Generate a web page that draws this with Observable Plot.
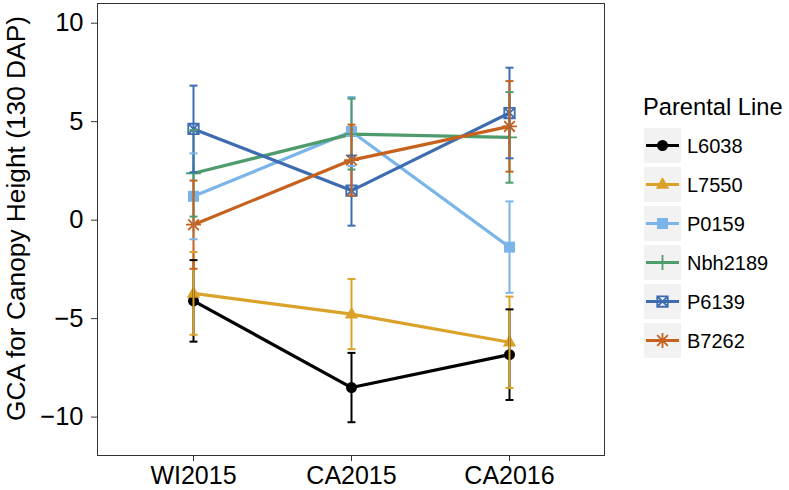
<!DOCTYPE html>
<html><head><meta charset="utf-8">
<script src="https://cdn.jsdelivr.net/npm/d3@7"></script>
<script src="https://cdn.jsdelivr.net/npm/@observablehq/plot@0.6"></script>
<style>
body{margin:0;background:#fff;}
#wrap{position:relative;width:789px;height:490px;font-family:"Liberation Sans",Arial,sans-serif;}
#wrap svg.legend{position:absolute;left:0;top:0;pointer-events:none;}
</style></head><body><div id="wrap"></div>
<script>
// ---- data ----
const environments = ["WI2015", "CA2015", "CA2016"];
const parentalLines = ["L6038", "L7550", "P0159", "Nbh2189", "P6139", "B7262"];
const gcaL6038   = [-4.10, -8.50, -6.83];
const gcaL7550   = [-3.72, -4.77, -6.20];
const gcaP0159   = [ 1.21,  4.50, -1.37];
const gcaNbh2189 = [ 2.38,  4.37,  4.20];
const gcaP6139   = [ 4.63,  1.50,  5.44];
const gcaB7262   = [-0.23,  3.05,  4.76];
const seL6038    = [2.07, 1.76, 2.30];
const seL7550    = [2.10, 1.78, 2.32];
const seP0159    = [2.18, 1.75, 2.32];
const seNbh2189  = [2.20, 1.80, 2.30];
const seP6139    = [2.20, 1.78, 2.30];
const seB7262    = [2.24, 1.80, 2.30];
const yTicks = [-10, -5, 0, 5, 10];
const yTitle = "GCA for Canopy Height (130 DAP)";
const legendTitle = "Parental Line";

// ---- style ----
const palette = ["#000000", "#DBA22A", "#7AB4E8", "#4E9C6C", "#3D6CB1", "#C7611E"];
const FONT = "Liberation Sans, Arial, sans-serif";

const gcaBy = {L6038: gcaL6038, L7550: gcaL7550, P0159: gcaP0159, Nbh2189: gcaNbh2189, P6139: gcaP6139, B7262: gcaB7262};
const seBy = {L6038: seL6038, L7550: seL7550, P0159: seP0159, Nbh2189: seNbh2189, P6139: seP6139, B7262: seB7262};
const rows = parentalLines.flatMap(line => environments.map((env, i) => ({
  line, env, gca: gcaBy[line][i], lo: gcaBy[line][i] - seBy[line][i], hi: gcaBy[line][i] + seBy[line][i]
})));

// custom symbols (ggplot shapes 16, 17, 15, 3, 7, 8)
const rad = size => Math.sqrt(size / Math.PI);
const symTriangle = {draw(c, size) {const s = rad(size); c.moveTo(0, -1.35 * s); c.lineTo(1.22 * s, 0.78 * s); c.lineTo(-1.22 * s, 0.78 * s); c.closePath();}};
const symSquare = {draw(c, size) {const s = rad(size); c.rect(-s, -s, 2 * s, 2 * s);}};
const symPlus = {draw(c, size) {const s = rad(size) * 1.35; c.moveTo(-s, 0); c.lineTo(s, 0); c.moveTo(0, -s); c.lineTo(0, s);}};
const symSquareCross = {draw(c, size) {const s = rad(size) * 0.95; c.rect(-s, -s, 2 * s, 2 * s); c.moveTo(-s, -s); c.lineTo(s, s); c.moveTo(s, -s); c.lineTo(-s, s);}};
const symAsterisk = {draw(c, size) {const s = rad(size) * 1.35, d = s * 0.72; c.moveTo(-s, 0); c.lineTo(s, 0); c.moveTo(0, -s); c.lineTo(0, s); c.moveTo(-d, -d); c.lineTo(d, d); c.moveTo(d, -d); c.lineTo(-d, d);}};
const capSym = {draw(c) {c.moveTo(-4, 0); c.lineTo(4, 0);}};
const shapes = {
  L6038:   {symbol: d3.symbolCircle, filled: true},
  L7550:   {symbol: symTriangle, filled: true},
  P0159:   {symbol: symSquare, filled: true},
  Nbh2189: {symbol: symPlus, filled: false},
  P6139:   {symbol: symSquareCross, filled: false},
  B7262:   {symbol: symAsterisk, filled: false}
};
const R = 5.5;

const pointMarks = parentalLines.map(name => {
  const sh = shapes[name];
  const sub = rows.filter(d => d.line === name);
  return sh.filled
    ? Plot.dot(sub, {x: "env", y: "gca", fill: "line", symbol: sh.symbol, r: R})
    : Plot.dot(sub, {x: "env", y: "gca", stroke: "line", fill: "none", symbol: sh.symbol, r: R, strokeWidth: 1.8});
});

const chart = Plot.plot({
  width: 789, height: 490,
  marginLeft: 97, marginRight: 185, marginTop: 3, marginBottom: 35,
  style: {fontFamily: FONT, background: "white", color: "#000"},
  x: {type: "point", domain: environments, padding: 0.6},
  y: {domain: [-11.95, 11.0]},
  color: {domain: parentalLines, range: palette},
  marks: [
    Plot.frame({stroke: "#333"}),
    Plot.axisY({ticks: yTicks, tickSize: 6, tickPadding: 8, fontSize: 25.5, label: null, stroke: "#333", fill: "#000"}),
    Plot.axisX({tickSize: 6, tickPadding: 5, fontSize: 25, label: null, stroke: "#333", fill: "#000"}),
    Plot.text([yTitle], {frameAnchor: "left", textAnchor: "middle", rotate: -90, dx: -81, dy: -11, fontSize: 26.3, fill: "#000", text: d => d}),
    Plot.line(rows, {x: "env", y: "gca", z: "line", stroke: "line", strokeWidth: 3.2}),
    ...pointMarks,
    Plot.ruleX(rows, {x: "env", y1: "lo", y2: "hi", stroke: "line", strokeWidth: 2}),
    Plot.dot(rows, {x: "env", y: "lo", stroke: "line", symbol: capSym, strokeWidth: 2}),
    Plot.dot(rows, {x: "env", y: "hi", stroke: "line", symbol: capSym, strokeWidth: 2})
  ]
});
const wrap = document.getElementById("wrap");
wrap.appendChild(chart);

// ---- legend ----
const colorScale = chart.scale("color");
const col = d3.scaleOrdinal(colorScale.domain, colorScale.range);
const lg = d3.select(wrap).append("svg").attr("class", "legend").attr("width", 789).attr("height", 490)
  .style("font-family", FONT);
lg.append("text").attr("x", 643).attr("y", 115).attr("font-size", 23.7).attr("fill", "#000").text(legendTitle);
parentalLines.forEach((name, i) => {
  const top = 128 + 39 * i, cy = top + 17.5;
  const g = lg.append("g");
  g.append("rect").attr("x", 644).attr("y", top).attr("width", 37).attr("height", 35).attr("fill", "#F2F2F2");
  g.append("line").attr("x1", 646).attr("x2", 679).attr("y1", cy).attr("y2", cy).attr("stroke", col(name)).attr("stroke-width", 3);
  const sh = shapes[name];
  g.append("path").attr("transform", `translate(662.5,${cy})`)
    .attr("d", d3.symbol(sh.symbol, Math.PI * R * R)())
    .attr("fill", sh.filled ? col(name) : "none")
    .attr("stroke", sh.filled ? "none" : col(name)).attr("stroke-width", 1.8);
  g.append("text").attr("x", 687).attr("y", cy).attr("dy", "0.35em").attr("font-size", 20).attr("fill", "#000").text(name);
});
</script>
</body></html>
